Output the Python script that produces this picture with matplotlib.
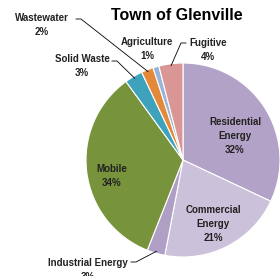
import numpy as np
import matplotlib
matplotlib.use("Agg")
import matplotlib.pyplot as plt

TITLE = "Town of Glenville"
categories = ["Residential\nEnergy", "Commercial\nEnergy", "Industrial Energy", "Mobile",
              "Solid Waste", "Wastewater", "Agriculture", "Fugitive"]
shares = [32, 21, 3, 34, 3, 2, 1, 4]
colors = ["#B3A2C7", "#CCC1DA", "#B09FC5", "#77933C",
          "#3FA2BC", "#E4883A", "#98B4D8", "#DA9694"]

# label layout in pixel coords (x, y-from-top)
label_pos = [(235, 136), (213, 224), (88, 270), (112, 176),
             (82, 66), (42, 25), (147, 49), (208, 50)]
# leader line: text-side anchor (pixels) or None
leader_from = [None, None, (131, 262), None,
               (112, 61), (76, 19), None, (186, 43)]

W, H = 280, 276
CX, CY, R = 183, 160, 97

plt.rcParams["font.family"] = ["Liberation Sans", "DejaVu Sans"]
fig = plt.figure(figsize=(W / 100, H / 100), dpi=100)
ax = fig.add_axes([0, 0, 1, 1])

wedges, _ = ax.pie(shares, colors=colors, startangle=90, counterclock=False,
                   center=(CX, H - CY), radius=R,
                   wedgeprops=dict(edgecolor="white", linewidth=0.8))
ax.set_xlim(0, W)
ax.set_ylim(0, H)
ax.set_aspect("equal")
ax.axis("off")

ax.text(177, H - 16, TITLE, ha="center", va="center", fontsize=11.5, fontweight="bold")

for w, name, val, (lx, ly), lf in zip(wedges, categories, shares, label_pos, leader_from):
    ax.text(lx, H - ly, f"{name}\n{val}%", ha="center", va="center",
            fontsize=7, fontweight="bold", linespacing=1.45, color="#222222")
    if lf is not None:
        mid = np.deg2rad((w.theta1 + w.theta2) / 2)
        ex = CX + R * 0.98 * np.cos(mid)
        ey = (H - CY) + R * 0.98 * np.sin(mid)
        fx, fy = lf[0], H - lf[1]
        step = 5 if ex > fx else -5
        ax.plot([fx, fx + step, ex], [fy, fy, ey], color="black", lw=0.6)

fig.savefig("out.png", dpi=100)
